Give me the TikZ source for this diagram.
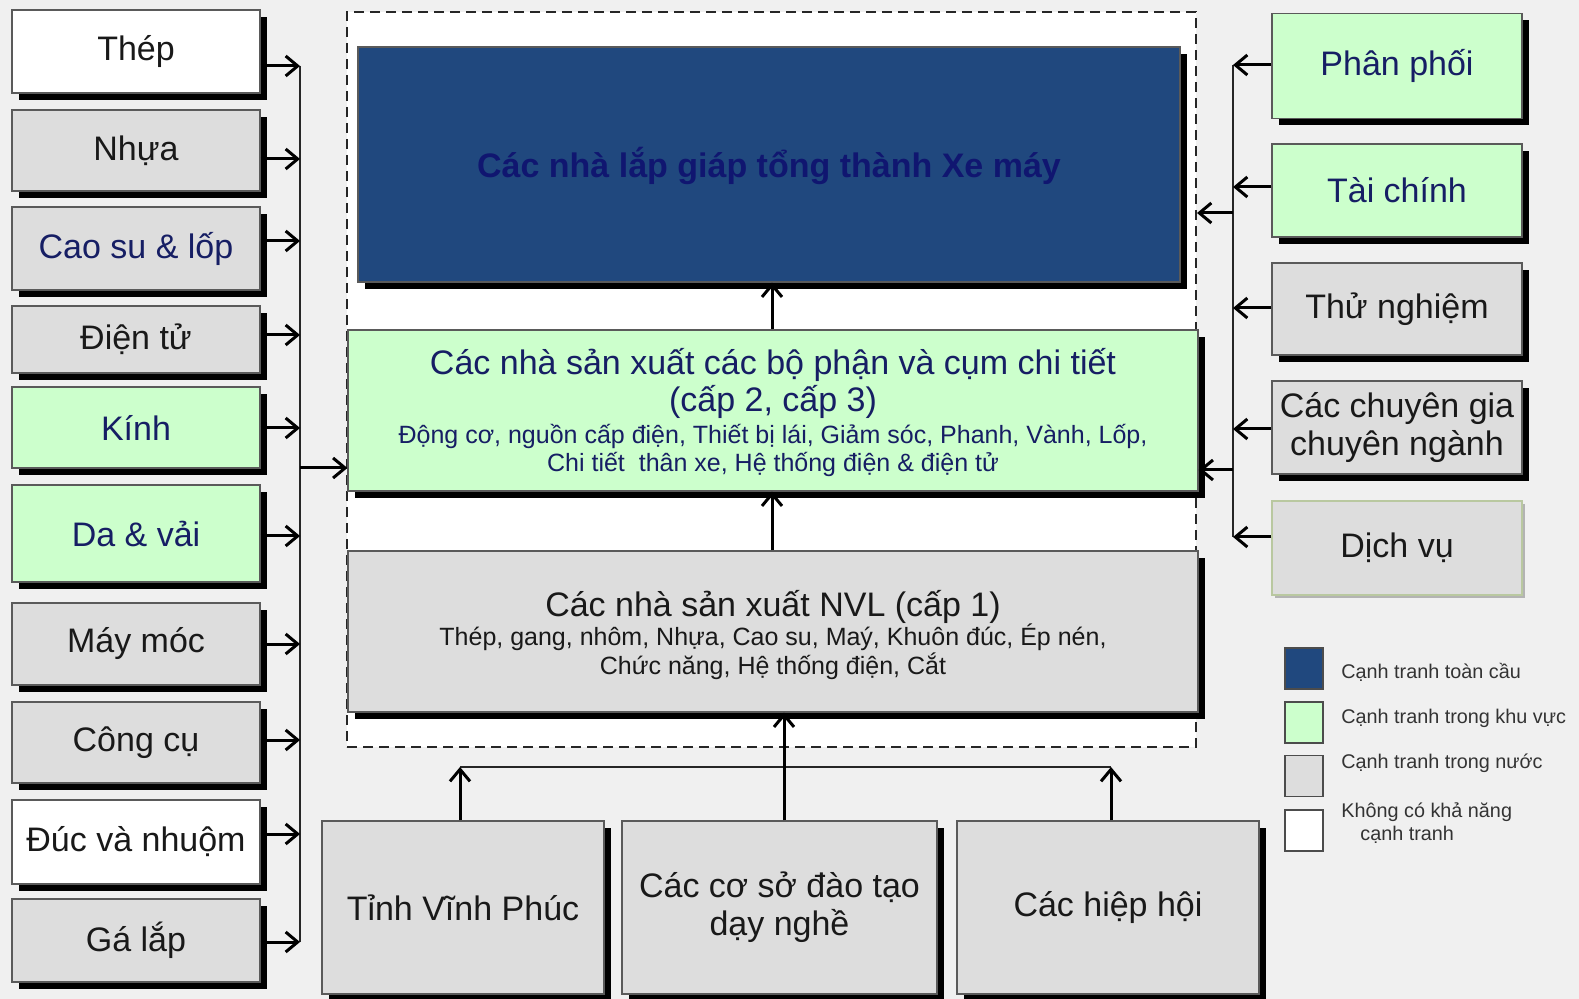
\documentclass[tikz,border=0pt]{standalone}
\usepackage{fontspec}
\setmainfont{Liberation Sans}
\usetikzlibrary{arrows.meta,shadows}
\definecolor{bgc}{RGB}{240,240,240}
\definecolor{navyfill}{RGB}{32,72,126}
\definecolor{navytxt}{RGB}{16,22,112}
\definecolor{greenfill}{RGB}{204,255,204}
\definecolor{grayfill}{RGB}{221,221,221}
\definecolor{darknavy}{RGB}{22,30,100}
\definecolor{bordc}{RGB}{90,90,90}
\definecolor{txtc}{RGB}{25,25,25}
\definecolor{dvborder}{RGB}{185,200,160}
\begin{document}
\begin{tikzpicture}[x=0.5pt,y=-0.5pt,
  plainbox/.style={draw=bordc, line width=0.6pt, inner sep=0pt, align=center,
    text=txtc, font=\fontsize{17}{19}\selectfont},
  box/.style={plainbox, drop shadow={shadow xshift=3.5pt,shadow yshift=-3.5pt,opacity=1,fill=black}},
  softbox/.style={plainbox, draw=dvborder, drop shadow={shadow xshift=1.5pt,shadow yshift=-1.5pt,opacity=0.25,fill=black}},
  gbox/.style={fill=greenfill},
  ybox/.style={fill=grayfill},
  wbox/.style={fill=white},
  navy/.style={text=darknavy},
  leftbox/.style={box, minimum width=124pt},
  rightbox/.style={box, minimum width=125pt},
  title/.style={anchor=base, inner sep=0pt, font=\fontsize{17}{19}\selectfont},
  subtitle/.style={anchor=base, inner sep=0pt, font=\fontsize{12.5}{14}\selectfont},
  arr/.style={line width=1.5pt, -{Straight Barb[length=6pt,width=10pt]}},
  bus/.style={line width=0.8pt, draw=black!85},
  legsq/.style={draw=black!70, line width=0.6pt, minimum width=19pt, minimum height=20.5pt, inner sep=0pt},
  legtxt/.style={anchor=west, inner sep=0pt, text=black!80, font=\fontsize{9.9}{11}\selectfont},
]
\useasboundingbox (0,0) rectangle (1579,999);
\fill[bgc] (0,0) rectangle (1579,999);

% dashed cluster
\node[draw=black!85, fill=white, line width=1pt, dash pattern=on 5pt off 3pt,
  minimum width=424.5pt, minimum height=367.5pt, inner sep=0pt] (cluster) at (771.5,379.5) {};

% central boxes
\node[box, fill=navyfill, minimum width=411pt, minimum height=117.5pt] (blue) at (769,164.5) {};
\node[title, text=navytxt, font=\fontsize{17}{19}\selectfont\bfseries] (b1) at (769,178) {Các nhà lắp giáp tổng thành Xe máy};

\node[box, gbox, minimum width=425pt, minimum height=80.5pt] (green) at (773,410.5) {};
\node[title, text=darknavy] (g1) at (773,375) {Các nhà sản xuất các bộ phận và cụm chi tiết};
\node[title, text=darknavy] (g2) at (773,412) {(cấp 2, cấp 3)};
\node[subtitle, text=darknavy] (g3) at (773,444) {Động cơ, nguồn cấp điện, Thiết bị lái, Giảm sóc, Phanh, Vành, Lốp,};
\node[subtitle, text=darknavy] (g4) at (773,472) {Chi tiết\ \ thân xe, Hệ thống điện \& điện tử};

\node[box, ybox, minimum width=425pt, minimum height=80.5pt] (nvl) at (773,631.5) {};
\node[title, text=txtc] (n1) at (773,617) {Các nhà sản xuất NVL (cấp 1)};
\node[subtitle, text=txtc] (n2) at (773,646) {Thép, gang, nhôm, Nhựa, Cao su, Maý, Khuôn đúc, Ép nén,};
\node[subtitle, text=txtc] (n3) at (773,674) {Chức năng, Hệ thống điện, Cắt};

% left boxes
\node[leftbox, wbox, minimum height=41.5pt] (thep) at (136,51.5) {Thép};
\node[leftbox, ybox, minimum height=40.5pt] (nhua) at (136,150.5) {Nhựa};
\node[leftbox, ybox, navy, minimum height=41.5pt] (caosu) at (136,248.5) {Cao su \& lốp};
\node[leftbox, ybox, minimum height=33.5pt] (dientu) at (136,339.5) {Điện tử};
\node[leftbox, gbox, navy, minimum height=40.5pt] (kinh) at (136,427.5) {Kính};
\node[leftbox, gbox, navy, minimum height=48.5pt] (da) at (136,533.5) {Da \& vải};
\node[leftbox, ybox, minimum height=41pt] (may) at (136,644) {Máy móc};
\node[leftbox, ybox, minimum height=40.5pt] (congcu) at (136,742.5) {Công cụ};
\node[leftbox, wbox, minimum height=42pt] (duc) at (136,842) {Đúc và nhuộm};
\node[leftbox, ybox, minimum height=41.5pt] (galap) at (136,940.5) {Gá lắp};

% right boxes
\node[rightbox, gbox, navy, minimum height=52.5pt] (phanphoi) at (1397,66) {Phân phối};
\node[rightbox, gbox, navy, minimum height=46.5pt] (taichinh) at (1397,190.5) {Tài chính};
\node[rightbox, ybox, minimum height=46pt] (thunghiem) at (1397,309) {Thử nghiệm};
\node[rightbox, ybox, minimum height=46.5pt] (chuyengia) at (1397,427.5) {Các chuyên gia\\chuyên ngành};
\node[softbox, ybox, minimum width=125pt, minimum height=47pt] (dichvu) at (1397,548) {Dịch vụ};

% bottom boxes
\node[box, ybox, minimum width=141pt, minimum height=86.5pt] (tinh) at (463,907.5) {Tỉnh Vĩnh Phúc};
\node[box, ybox, minimum width=157.5pt, minimum height=86.5pt] (coso) at (779.5,907.5) {Các cơ sở đào tạo\\dạy nghề};
\node[box, ybox, minimum width=151pt, minimum height=86.5pt] (hiephoi) at (1108,907.5) {Các hiệp hội};

% left bus
\coordinate (lb1) at (300,66);
\coordinate (lb2) at (300,159);
\coordinate (lb3) at (300,241);
\coordinate (lb4) at (300,335);
\coordinate (lb5) at (300,428);
\coordinate (lb6) at (300,536);
\coordinate (lb7) at (300,644);
\coordinate (lb8) at (300,740);
\coordinate (lb9) at (300,834);
\coordinate (lb10) at (300,942);
\coordinate (lbg) at (300,468);
\draw[bus] (lb1) -- (lb10);
\draw[arr] (thep.east |- lb1) -- (lb1);
\draw[arr] (nhua.east |- lb2) -- (lb2);
\draw[arr] (caosu.east |- lb3) -- (lb3);
\draw[arr] (dientu.east |- lb4) -- (lb4);
\draw[arr] (kinh.east |- lb5) -- (lb5);
\draw[arr] (da.east |- lb6) -- (lb6);
\draw[arr] (may.east |- lb7) -- (lb7);
\draw[arr] (congcu.east |- lb8) -- (lb8);
\draw[arr] (duc.east |- lb9) -- (lb9);
\draw[arr] (galap.east |- lb10) -- (lb10);
\draw[arr] (lbg) -- (green.west |- lbg);

% right bus
\coordinate (rb1) at (1233,65);
\coordinate (rb2) at (1233,187);
\coordinate (rb3) at (1233,308);
\coordinate (rb4) at (1233,429);
\coordinate (rb5) at (1233,537);
\coordinate (rbc) at (1233,213);
\coordinate (rbg) at (1233,470);
\draw[bus] (rb1) -- (rb5);
\draw[arr] (phanphoi.west |- rb1) -- (rb1);
\draw[arr] (taichinh.west |- rb2) -- (rb2);
\draw[arr] (thunghiem.west |- rb3) -- (rb3);
\draw[arr] (chuyengia.west |- rb4) -- (rb4);
\draw[arr] (dichvu.west |- rb5) -- (rb5);
\draw[arr] (rbc) -- (cluster.east |- rbc);
\draw[arr] (rbg) -- (green.east |- rbg);

% inner vertical arrows
\coordinate (vx) at (772,500);
\draw[arr] (nvl.north -| vx) -- (green.south -| vx);
\draw[arr] (green.north -| vx) -- (blue.south -| vx);

% bottom connectors
\coordinate (hl1) at (460,767);
\coordinate (hl2) at (1111,767);
\coordinate (hc) at (784,767);
\draw[bus] (hl1) -- (hl2);
\draw[arr] (tinh.north -| hl1) -- (hl1);
\draw[arr] (hiephoi.north -| hl2) -- (hl2);
\draw[arr] (coso.north -| hc) -- (nvl.south -| hc);

% legend
\node[legsq, fill=navyfill] (lg1) at (1304,668.5) {};
\node[legsq, fill=greenfill] (lg2) at (1304,722.5) {};
\node[legsq, fill=grayfill] (lg3) at (1304,776) {};
\node[legsq, fill=white] (lg4) at (1304,830.5) {};
\node[legtxt] (lt1) at (1341,672) {Cạnh tranh toàn cầu};
\node[legtxt] (lt2) at (1341,718) {Cạnh tranh trong khu vực};
\node[legtxt] (lt3) at (1341,763) {Cạnh tranh trong nước};
\node[legtxt] (lt4) at (1341,812) {Không có khả năng};
\node[legtxt] (lt5) at (1360,835) {cạnh tranh};
\end{tikzpicture}
\end{document}
